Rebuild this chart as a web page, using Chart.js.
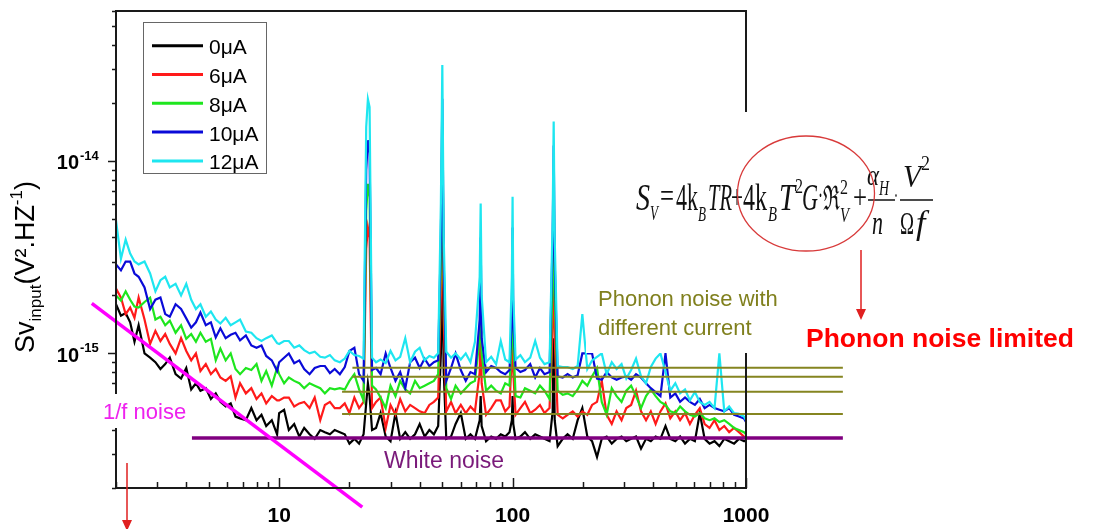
<!DOCTYPE html>
<html>
<head>
<meta charset="utf-8">
<script src="https://cdn.jsdelivr.net/npm/chart.js@4.4.1/dist/chart.umd.min.js"></script>
<style>
  html, body { margin: 0; padding: 0; background: #fff; }
  #wrap { width: 1107px; height: 529px; }
</style>
</head>
<body>
<div id="wrap"><canvas id="noiseChart" width="1107" height="529"></canvas></div>
<script>
// frequency grid, Hz
const freq = [
  2.0, 2.1, 2.2, 2.3, 2.4, 2.5, 2.65, 2.8, 2.95, 3.1,
  3.25, 3.4, 3.6, 3.8, 4.0, 4.2, 4.4, 4.6, 4.85, 5.1,
  5.35, 5.6, 5.9, 6.2, 6.5, 6.8, 7.2, 7.6, 8.0, 8.4,
  8.8, 9.3, 9.8, 10, 10.5, 11, 11.6, 12.2, 12.8, 13.5,
  14.2, 15, 15.7, 16.5, 17.3, 18.2, 19.1, 20, 21, 22,
  23, 23.6, 24, 24.4, 25, 26, 27.2, 28.6, 30, 31.5,
  33, 34.7, 36.4, 38.2, 40, 42, 44, 46, 48, 49.3,
  50, 50.7, 52, 54.5, 57, 60, 63, 66, 69, 72.3,
  73, 73.7, 77, 81, 85, 89, 93, 97, 99.3, 100,
  100.7, 103, 108, 113, 119, 125, 131, 137, 144, 148.5,
  150, 151.5, 156, 164, 172, 181, 190, 199, 209, 219,
  230, 241, 253, 266, 279, 293, 307, 322, 338, 355,
  373, 391, 410, 430, 452, 474, 498, 522, 548, 575,
  604, 634, 665, 698, 733, 769, 807, 847, 889, 933,
  980, 1000
];

// input noise spectral density, in units of 1e-16 V^2/Hz
const UNIT = 1e-16;

const sv0uA = [
  18, 15.7, 16.2, 14.5, 11.5, 14, 10, 9.5, 9.0, 8.3,
  8.8, 9.5, 7.8, 7.4, 8.4, 6.5, 7.0, 6.4, 6.6, 5.8,
  6.2, 5.6, 5.3, 5.5, 4.7, 4.6, 4.5, 5.2, 4.5, 4.8,
  4.2, 4.5, 3.8, 4.9, 5.1, 4.0, 4.3, 3.7, 4.1, 3.8,
  3.6, 4.0, 3.9, 3.8, 4.0, 3.9, 3.8, 3.4, 3.6, 3.4,
  3.8, 5.5, 7.0, 6.0, 4.0, 4.1, 4.9, 3.7, 3.5, 4.9,
  3.6, 3.9, 3.6, 3.8, 4.3, 3.7, 4.0, 3.8, 4.2, 10,
  30, 8.0, 3.6, 3.7, 4.3, 4.9, 3.6, 3.8, 3.6, 4.5,
  6.0, 4.2, 3.5, 3.7, 3.6, 3.8, 3.7, 3.9, 4.5, 6.0,
  4.3, 3.6, 3.7, 3.9, 3.6, 3.8, 3.7, 3.6, 3.5, 5.0,
  12, 4.5, 3.3, 3.6, 3.8, 3.6, 4.5, 5.2, 3.7, 3.5,
  2.9, 3.6, 3.7, 3.4, 3.6, 3.7, 3.5, 3.6, 3.7, 3.2,
  3.6, 3.5, 3.7, 3.6, 4.2, 3.6, 3.5, 3.7, 3.4, 3.6,
  3.5, 4.9, 3.6, 3.4, 3.5, 3.3, 3.6, 3.5, 3.4, 3.6,
  3.5, 3.5
];

const sv6uA = [
  21.7, 19.5, 16, 17.3, 15.3, 19.5, 15, 11.2, 13.1, 11.6,
  12.6, 11.2, 10, 12, 10.3, 9.2, 10, 8.1, 8.8, 7.8,
  8.3, 7.5, 7.2, 7.6, 5.9, 7.0, 6.2, 6.6, 5.8, 6.2,
  5.5, 6.0, 5.7, 5.7, 5.9, 5.9, 5.3, 5.5, 5.6, 5.2,
  5.9, 4.5, 5.4, 5.6, 5.2, 5.2, 5.5, 4.9, 5.9, 5.2,
  5.6, 35, 45, 40, 5.2, 5.6, 5.9, 4.1, 5.4, 4.8,
  5.8, 5.0, 5.4, 5.2, 5.0, 4.9, 5.4, 5.6, 5.9, 20,
  100, 15, 5.0, 5.6, 4.9, 5.4, 4.9, 5.3, 5.0, 8,
  15, 7, 4.8, 5.2, 5.7, 5.7, 5.0, 5.3, 10, 20,
  8, 4.8, 5.2, 5.6, 4.9, 5.1, 5.4, 4.9, 5.2, 15,
  40, 12, 4.8, 4.6, 4.8, 5.0, 4.7, 5.0, 4.8, 5.4,
  5.6, 7.2, 4.8, 4.3, 5.0, 4.5, 5.2, 5.4, 6.4, 5.0,
  4.5, 5.0, 4.3, 5.0, 5.5, 4.6, 5.0, 4.5, 4.9, 4.3,
  4.8, 5.2, 4.3, 4.1, 4.5, 4.0, 4.2, 3.9, 4.1, 3.9,
  3.7, 3.6
];

const sv8uA = [
  20, 18.8, 21, 19, 17.5, 17.3, 18.5, 19.5, 15, 15.5,
  14, 14.8, 12.8, 14, 11.9, 12.6, 11.5, 12.8, 11.5, 11.9,
  9.2, 10.6, 9.2, 10, 8.3, 7.8, 8.4, 8.2, 8.8, 7.2,
  8.1, 6.8, 8.4, 7.8, 7.0, 7.5, 7.2, 7.0, 6.6, 7.0,
  6.8, 6.6, 6.2, 6.6, 6.5, 6.6, 6.5, 7.2, 7.8, 6.5,
  5.7, 55, 76, 65, 6.8, 6.5, 5.9, 5.2, 6.8, 6.0,
  7.2, 6.5, 6.2, 7.2, 6.6, 6.8, 7.0, 7.2, 7.8, 30,
  150, 25, 6.6, 5.8, 6.8, 6.2, 6.6, 7.0, 7.2, 12,
  25, 10, 6.4, 6.8, 6.4, 6.2, 7.0, 6.8, 12, 30,
  12, 6.0, 5.9, 6.6, 6.4, 6.2, 6.8, 6.4, 5.8, 25,
  80, 20, 6.4, 6.1, 6.2, 6.0, 6.5, 7.2, 6.8, 7.6,
  8.4, 5.6, 4.8, 6.6, 6.0, 5.6, 6.4, 6.8, 6.0, 5.2,
  6.0, 6.5, 6.0, 5.6, 5.4, 5.0, 4.9, 5.3, 5.0, 4.8,
  4.7, 4.9, 4.6, 4.5, 4.6, 4.4, 4.5, 4.3, 4.1, 4.0,
  3.9, 3.8
];

const sv10uA = [
  29, 27, 30, 30, 26, 25, 22, 17, 19, 19.5,
  16, 15.5, 18, 17, 15.2, 13.6, 14.5, 16.3, 14, 14.5,
  12.1, 13.5, 12, 12.5, 12.8, 11.7, 12.4, 11, 10.7, 11,
  9.7, 9.2, 8.1, 9.0, 9.5, 10, 8.9, 9.2, 8.3, 7.8,
  8.4, 8.6, 8.6, 7.9, 8.3, 7.8, 8.5, 10.3, 10.7, 7.8,
  7.2, 90, 128, 110, 8.2, 8.4, 7.8, 10, 8.4, 7.2,
  8.0, 6.6, 9.0, 9.5, 8.4, 9.4, 8.6, 9.0, 9.2, 40,
  210, 30, 7.2, 8.4, 10, 8.2, 7.2, 8.0, 7.8, 15,
  40, 12, 8.0, 8.6, 8.4, 8.0, 7.8, 8.2, 15, 45,
  15, 8.4, 8.0, 8.2, 8.8, 7.5, 8.4, 7.8, 8.0, 40,
  120, 30, 7.6, 7.5, 7.8, 7.5, 7.7, 10, 10, 10,
  7.4, 7.3, 8.0, 7.5, 7.3, 7.5, 7.6, 7.3, 7.8, 7.5,
  7.0, 6.6, 6.3, 6.0, 10, 5.9, 6.2, 5.6, 5.9, 5.6,
  5.4, 5.8, 5.2, 5.4, 5.2, 5.1, 5.0, 5.2, 4.8, 4.7,
  4.6, 4.4
];

const sv12uA = [
  49, 31, 39, 33, 30, 29, 30, 26, 21, 24,
  25, 22, 23, 20, 23, 19, 17, 18, 15.5, 16.5,
  15, 14.3, 15.3, 14, 14.5, 15, 13, 12.8, 12, 11.6,
  12, 12.4, 11.3, 11.2, 11.6, 11.6, 10.7, 11, 10.4, 10,
  10.2, 9.6, 9.5, 9.8, 9.2, 9.0, 9.4, 10.3, 9.8, 9.7,
  9.4, 150, 209, 190, 9.5, 9.0, 9.3, 8.9, 10.3, 9.2,
  9.6, 12, 9.0, 10.2, 10.7, 9.2, 9.7, 9.5, 10, 60,
  315, 40, 10.2, 9.5, 10, 9.3, 10, 9.0, 11.5, 25,
  60, 20, 9.0, 9.6, 8.8, 11.6, 9.3, 9.0, 25, 65,
  20, 9.3, 9.8, 9.0, 9.5, 11.6, 9.5, 8.8, 9.0, 50,
  160, 40, 8.6, 8.5, 8.5, 8.3, 8.6, 16, 8.3, 9.2,
  9.6, 10, 7.8, 9, 8.3, 8.8, 7.4, 8.2, 9.4, 7.6,
  7.0, 8.5, 9.4, 10, 8.0, 6.4, 7.0, 6.2, 6.5, 5.7,
  6.3, 5.6, 5.4, 5.6, 5.2, 10, 5.0, 5.3, 4.9, 4.85,
  4.7, 4.5
];

const currents = ['0μA', '6μA', '8μA', '10μA', '12μA'];
const curveColors = ['#000000', '#ff1a1a', '#1ee61e', '#0a0ad8', '#1ee6f0'];

// guide lines drawn on the plot (Hz, 1e-16 V^2/Hz)
const oneOverFx = [1.575, 22.7];
const oneOverFy = [18.2, 1.59];
const whiteNoiseX = [4.23, 2600];
const whiteNoiseLevel = 3.64;
const phononLevels = [8.42, 7.56, 6.32, 4.85];
const phononStartX = [20.6, 20.6, 18.6, 18.6];
const phononEndX = 2600;

const sans = '"Liberation Sans", Arial, sans-serif';
const serif = '"Liberation Serif", "Times New Roman", serif';

const curves = [sv0uA, sv6uA, sv8uA, sv10uA, sv12uA];

const datasets = [];
curves.forEach((vals, i) => {
    datasets.push({
        label: currents[i],
        data: freq.map((f, k) => ({ x: f, y: vals[k] * UNIT })),
        borderColor: curveColors[i],
        borderWidth: 2.2,
        pointRadius: 0,
        tension: 0,
        order: 5 - i,
    });
});

datasets.push({
    label: '1/f',
    data: oneOverFx.map((f, k) => ({ x: f, y: oneOverFy[k] * UNIT })),
    borderColor: '#ff00ff',
    borderWidth: 3.5,
    pointRadius: 0,
    clip: false,
    order: 0,
});
datasets.push({
    label: 'white',
    data: whiteNoiseX.map(f => ({ x: f, y: whiteNoiseLevel * UNIT })),
    borderColor: '#800080',
    borderWidth: 3.5,
    pointRadius: 0,
    clip: false,
    order: 0,
});
phononLevels.forEach((lvl, i) => {
    datasets.push({
        label: 'phonon' + i,
        data: [{ x: phononStartX[i], y: lvl * UNIT }, { x: phononEndX, y: lvl * UNIT }],
        borderColor: '#858520',
        borderWidth: 2,
        pointRadius: 0,
        clip: false,
        order: 0,
    });
});

function put(ctx, s, x, y, font, color, w) {
    ctx.font = font;
    ctx.fillStyle = color;
    if (w) ctx.fillText(s, x, y, w);
    else ctx.fillText(s, x, y);
}

const whiteBg = {
    id: 'whiteBg',
    beforeDraw(chart) {
        const ctx = chart.ctx;
        ctx.save();
        ctx.fillStyle = '#fff';
        ctx.fillRect(0, 0, chart.width, chart.height);
        ctx.restore();
    }
};

const decorations = {
    id: 'decorations',
    afterDraw(chart) {
        const { ctx, chartArea: a } = chart;
        const xs = chart.scales.x, ys = chart.scales.y;
        ctx.save();
        ctx.textBaseline = 'alphabetic';

        // frame
        ctx.strokeStyle = '#1a1a1a';
        ctx.lineWidth = 2;
        ctx.strokeRect(a.left, a.top, a.right - a.left, a.bottom - a.top);

        // x ticks (inward)
        ctx.lineWidth = 1.5;
        ctx.beginPath();
        for (let e = 0; e <= 3; e++) {
            for (let k = 1; k <= 9; k++) {
                const v = k * Math.pow(10, e);
                if (v < 2 || v > 1000) continue;
                const px = Math.round(xs.getPixelForValue(v)) + 0.5;
                const len = k === 1 ? 10 : 6;
                ctx.moveTo(px, a.bottom);
                ctx.lineTo(px, a.bottom - len);
            }
        }
        // y ticks (outward)
        for (let e = -16; e <= -14; e++) {
            for (let k = 1; k <= 9; k++) {
                const v = k * Math.pow(10, e);
                if (v < 1.999e-16 || v > 6.001e-14) continue;
                const py = Math.round(ys.getPixelForValue(v)) + 0.5;
                const len = k === 1 ? 8 : 4;
                ctx.moveTo(a.left, py);
                ctx.lineTo(a.left - len, py);
            }
        }
        ctx.stroke();

        // x tick labels
        ctx.textAlign = 'center';
        [10, 100, 1000].forEach(v => {
            put(ctx, String(v), xs.getPixelForValue(v), 522, 'bold 21px ' + sans, '#000');
        });
        // y tick labels
        [[1e-15, '-15'], [1e-14, '-14']].forEach(([v, ex]) => {
            const py = ys.getPixelForValue(v);
            ctx.textAlign = 'right';
            put(ctx, '10', 79, py + 8.5, 'bold 20px ' + sans, '#000');
            ctx.textAlign = 'left';
            put(ctx, ex, 80, py - 1, 'bold 13px ' + sans, '#000');
        });

        // y axis title
        ctx.save();
        ctx.translate(34, 267);
        ctx.rotate(-Math.PI / 2);
        const parts = [
            ['Sv', '27px ' + sans, 0],
            ['input', '17px ' + sans, 7],
            ['(V².HZ', '27px ' + sans, 0],
            ['-1', '17px ' + sans, -12],
            [')', '27px ' + sans, 0],
        ];
        let total = 0;
        parts.forEach(p => { ctx.font = p[1]; total += ctx.measureText(p[0]).width; });
        let cx = -total / 2;
        ctx.textAlign = 'left';
        parts.forEach(p => {
            put(ctx, p[0], cx, p[2], p[1], '#000');
            cx += ctx.measureText(p[0]).width;
        });
        ctx.restore();

        // white box of the pasted formula picture
        ctx.fillStyle = '#fff';
        ctx.fillRect(586, 112, 370, 241);
        // white box behind the 1/f label
        ctx.fillRect(100, 394, 90, 34);

        // legend
        ctx.fillStyle = '#fff';
        ctx.fillRect(143, 22, 124, 152);
        ctx.strokeStyle = '#666';
        ctx.lineWidth = 1;
        ctx.strokeRect(143.5, 22.5, 123, 151);
        ctx.textAlign = 'left';
        datasets.slice(0, 5).forEach((ds, i) => {
            const ly = 45.7 + i * 28.8;
            ctx.strokeStyle = ds.borderColor;
            ctx.lineWidth = 3;
            ctx.beginPath();
            ctx.moveTo(152, ly);
            ctx.lineTo(203, ly);
            ctx.stroke();
            put(ctx, ds.label, 209, ly + 8.5, '21px ' + sans, '#000');
        });

        // annotations
        put(ctx, '1/f noise', 103, 419, '22px ' + sans, '#ee22ee');
        put(ctx, 'White noise', 384, 468, '23px ' + sans, '#7a1a7a');
        put(ctx, 'Phonon noise with', 598, 306, '22px ' + sans, '#80801e');
        put(ctx, 'different current', 598, 335, '22px ' + sans, '#80801e');
        put(ctx, 'Phonon noise limited', 806, 347, 'bold 26.5px ' + sans, '#ff0000');

        // formula
        const I = s => 'italic ' + s + 'px ' + serif;
        const R = s => s + 'px ' + serif;
        const eq = [
            ['S', 636, 210, I(37), 14], ['V', 650, 220, I(21), 8],
            ['=', 660, 207, R(34), 14], ['4k', 676, 210, R(37), 22],
            ['B', 698, 221, I(21), 8], ['TR', 708, 210, I(37), 24],
            ['+', 731, 208, R(34), 12], ['4k', 743, 210, R(37), 24],
            ['B', 768, 221, I(21), 9], ['T', 779, 210, I(37), 16],
            ['2', 795, 193, R(21), 8], ['G', 802, 210, I(37), 16],
            ['·', 818, 205, R(30), 5], ['ℜ', 823, 210, R(34), 17],
            ['2', 840, 194, R(21), 8], ['V', 840, 222, I(21), 9],
            ['+', 853, 208, R(34), 14],
            ['α', 867, 185, I(30), 12], ['H', 879, 195, I(20), 10],
            ['n', 872, 234, I(34), 11], ['·', 894, 204, R(26), 4],
            ['V', 903, 187, I(32), 18], ['2', 921, 170, R(20), 9],
            ['Ω', 900, 234, R(32), 14], ['f', 916, 234, I(34), 13],
        ];
        eq.forEach(p => put(ctx, p[0], p[1], p[2], p[3], '#111', p[4]));
        ctx.strokeStyle = '#111';
        ctx.lineWidth = 1.5;
        ctx.beginPath();
        ctx.moveTo(868, 200); ctx.lineTo(895, 200);
        ctx.moveTo(900, 200); ctx.lineTo(933, 200);
        ctx.stroke();

        // red ellipse + arrows
        ctx.strokeStyle = '#d83a3a';
        ctx.lineWidth = 1.3;
        ctx.beginPath();
        ctx.ellipse(806, 193.5, 68.5, 57.5, 0, 0, Math.PI * 2);
        ctx.stroke();

        ctx.strokeStyle = '#e02020';
        ctx.fillStyle = '#e02020';
        ctx.lineWidth = 1.5;
        ctx.beginPath();
        ctx.moveTo(861, 250); ctx.lineTo(861, 312);
        ctx.moveTo(127, 463); ctx.lineTo(127, 523);
        ctx.stroke();
        ctx.beginPath();
        ctx.moveTo(861, 320); ctx.lineTo(856, 309); ctx.lineTo(866, 309); ctx.closePath();
        ctx.moveTo(127, 531); ctx.lineTo(122, 520); ctx.lineTo(132, 520); ctx.closePath();
        ctx.fill();

        ctx.restore();
    }
};

new Chart(document.getElementById('noiseChart'), {
    type: 'line',
    plugins: [whiteBg, decorations],
    data: { datasets: datasets },
    options: {
        responsive: false,
        animation: false,
        devicePixelRatio: 1,
        events: [],
        layout: {
            padding: { left: 116, top: 11, right: 361, bottom: 41 }
        },
        plugins: {
            legend: { display: false },
            tooltip: { enabled: false }
        },
        scales: {
            x: { type: 'logarithmic', min: 2, max: 1000, display: false },
            y: { type: 'logarithmic', min: 2e-16, max: 6e-14, display: false }
        }
    }
});
</script>
</body>
</html>
